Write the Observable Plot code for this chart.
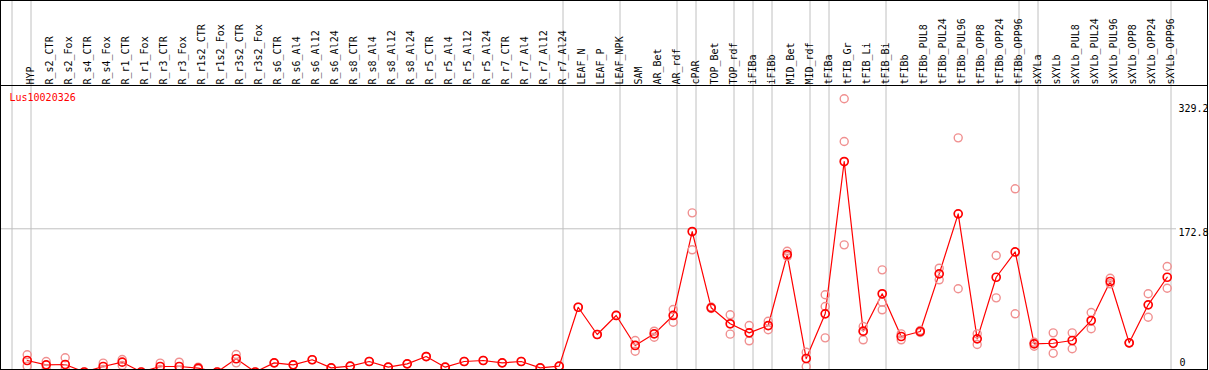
<!DOCTYPE html>
<html>
<head>
<meta charset="utf-8">
<script src="https://cdn.jsdelivr.net/npm/d3@7"></script>
<script src="https://cdn.jsdelivr.net/npm/@observablehq/plot@0.6"></script>
<style>
  html, body { margin: 0; padding: 0; background: #fff; }
  #chart svg { display: block; }
</style>
</head>
<body>
<div id="chart"></div>
<script>
const seriesName = "Lus10020326";

const categories = [
  "HYP",
  "R_s2_CTR", "R_s2_Fox", "R_s4_CTR", "R_s4_Fox", "R_r1_CTR", "R_r1_Fox", "R_r3_CTR", "R_r3_Fox",
  "R_r1s2_CTR", "R_r1s2_Fox", "R_r3s2_CTR", "R_r3s2_Fox",
  "R_s6_CTR", "R_s6_Al4", "R_s6_Al12", "R_s6_Al24",
  "R_s8_CTR", "R_s8_Al4", "R_s8_Al12", "R_s8_Al24",
  "R_r5_CTR", "R_r5_Al4", "R_r5_Al12", "R_r5_Al24",
  "R_r7_CTR", "R_r7_Al4", "R_r7_Al12", "R_r7_Al24",
  "LEAF_N", "LEAF_P", "LEAF_NPK",
  "SAM", "AR_Bet", "AR_rdf",
  "cPAR", "TOP_Bet", "TOP_rdf",
  "iFIBa", "iFIBb", "MID_Bet", "MID_rdf",
  "tFIBa", "tFIB_Gr", "tFIB_Li", "tFIB_Bi",
  "tFIBb", "tFIBb_PUL8", "tFIBb_PUL24", "tFIBb_PUL96", "tFIBb_OPP8", "tFIBb_OPP24", "tFIBb_OPP96",
  "sXYLa",
  "sXYLb", "sXYLb_PUL8", "sXYLb_PUL24", "sXYLb_PUL96", "sXYLb_OPP8", "sXYLb_OPP24", "sXYLb_OPP96"
];

// number of consecutive categories in each group (separated by grey lines)
const groupSizes = [1, 28, 3, 3, 1, 2, 1, 1, 2, 1, 3, 7, 1, 7];

const means = [
  14.3,
  9.1, 9.5, 0.5, 7.1, 12.3, 0.5, 7.1, 7.1,
  5.1, 0.5, 16.4, 0.5,
  11.5, 9.1, 15.2, 5.5,
  7.5, 13.1, 6.3, 10.3,
  19.1, 6.3, 13.1, 14.3,
  11.5, 13.1, 5.5, 7.5,
  78.4, 45.6, 68.5,
  32.4, 46.4, 68.5,
  169.5, 77.7, 58.5,
  47.6, 56.4, 141.8, 16.7,
  70.5, 253.7, 49.6, 94.6,
  43.2, 49.2, 118.6, 190.8, 40.4, 114.5, 144.9,
  34.4,
  35.1, 38.4, 62.4, 109.4, 35.6, 81.3, 114.5
];

const replicates = [
  [21.2, 7.5],
  [13.1, 4.3], [17.6, 4.3], [0.5], [11.1, 3.5], [15.5, 8.3], [0.5], [11.1, 3.5], [12.3, 2.5],
  [6.3, 4.0], [0.5], [21.5, 11.5], [0.5],
  [11.5], [9.1], [15.2], [5.5],
  [7.5], [13.1], [6.3], [10.3],
  [19.1], [6.3], [13.1], [14.3],
  [11.5], [13.1], [5.5], [7.5],
  [78.4], [45.6], [68.5],
  [38.4, 25.5], [49.6, 42.3], [75.7, 60.4],
  [192.0, 147.5], [78.7, 76.9], [69.3, 46.0],
  [56.4, 38.0], [61.6, 51.3], [145.8, 139.4], [24.3, 7.1],
  [93.4, 79.3, 41.6], [329.2, 277.8, 153.5], [55.2, 49.0, 39.2], [123.4, 84.5, 75.3],
  [46.4, 39.2], [50.4, 48.0], [125.4, 111.4], [282.2, 100.6], [46.4, 33.6], [140.6, 89.7], [220.9, 70.5],
  [36.3, 31.5],
  [47.6, 23.1], [47.6, 28.4], [72.1, 52.5], [113.3, 106.6], [35.6, 35.6], [94.6, 66.4], [127.4, 101.3]
];

const yLabelMax = 329.2;
const yLabelMid = 172.8;
const yLabelMin = 0;

// ---- derived tables ----
const meanData = categories.map((c, i) => ({i, cat: c, v: means[i]}));
const repData = replicates.flatMap((arr, i) => arr.map(v => ({i, cat: categories[i], v})));
const boundaries = [-1];
{ let s = -1; for (const n of groupSizes) { s += n; boundaries.push(s); } }
const boundaryOffset = 0.2;

const mono = "DejaVu Sans Mono, Liberation Mono, monospace";

const chart = Plot.plot({
  width: 1209,
  height: 370,
  marginTop: 85,
  marginBottom: 1,
  marginLeft: 0,
  marginRight: 2,
  style: {fontFamily: mono, fontSize: "10px", background: "white"},
  x: {type: "linear", domain: [0, categories.length - 1], range: [26.7, 1166.7], axis: null},
  y: {type: "linear", domain: [0, yLabelMax], range: [371.9, 98.3], axis: null},
  marks: [
    Plot.ruleX(boundaries, {x: d => d + boundaryOffset, stroke: "#c0c0c0", strokeWidth: 1, insetTop: -85}),
    Plot.ruleY([yLabelMid], {y: d => d, stroke: "#c0c0c0", strokeWidth: 1, insetRight: 31}),
    Plot.frame({stroke: "black", insetTop: -85}),
    Plot.frame({stroke: "black"}),
    Plot.text(categories, {
      x: (d, i) => i, frameAnchor: "top", dy: -1, rotate: -90, textAnchor: "start",
      fill: "black", fontFamily: mono, fontSize: 10
    }),
    Plot.text([seriesName], {frameAnchor: "top-left", dx: 9, dy: 8, lineAnchor: "top", textAnchor: "start", fill: "red", fontSize: 10}),
    Plot.text([yLabelMax], {y: d => d, text: d => d.toFixed(1), frameAnchor: "right", dx: -29, dy: 6, lineAnchor: "top", textAnchor: "start", fill: "black"}),
    Plot.text([yLabelMid], {y: d => d, text: d => d.toFixed(1), frameAnchor: "right", dx: -29, dy: 0, lineAnchor: "top", textAnchor: "start", fill: "black"}),
    Plot.text([yLabelMin], {y: d => d, text: d => String(d), frameAnchor: "right", dx: -28, dy: -6, lineAnchor: "bottom", textAnchor: "start", fill: "black"}),
    Plot.line(meanData, {x: "i", y: "v", stroke: "red", strokeWidth: 1.2, clip: true}),
    Plot.dot(repData, {x: "i", y: "v", r: 4, stroke: "#f09090", strokeWidth: 1.4, fill: "none", clip: true}),
    Plot.dot(meanData, {x: "i", y: "v", r: 4, stroke: "#ff0000", strokeWidth: 1.7, fill: "none", clip: true})
  ]
});
document.getElementById("chart").appendChild(chart);
</script>
</body>
</html>
